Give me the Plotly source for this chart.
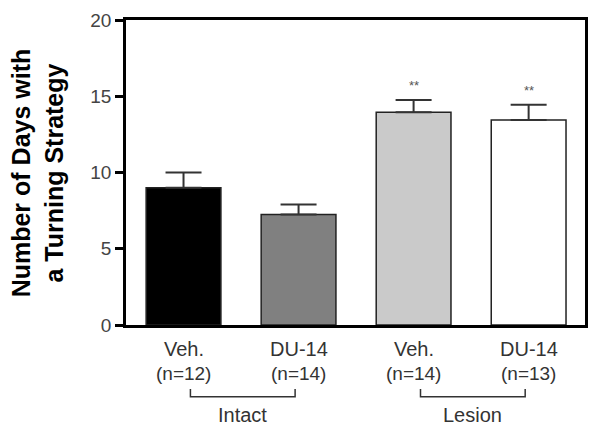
import plotly.graph_objects as go

groups = ["Veh.", "DU-14", "Veh.", "DU-14"]
n_labels = ["(n=12)", "(n=14)", "(n=14)", "(n=13)"]
means = [9.0, 7.25, 13.95, 13.45]
sem = [1.0, 0.65, 0.8, 1.0]
bar_colors = ["#000000", "#808080", "#cacaca", "#ffffff"]
sig = ["", "", "**", "**"]
conditions = ["Intact", "Lesion"]
y_ticks = [0, 5, 10, 15, 20]

x = list(range(len(means)))
text_col = "#333333"
font_family = "Arial, Liberation Sans, sans-serif"

fig = go.Figure()
fig.add_trace(go.Bar(
    x=x, y=means, width=0.65,
    marker=dict(color=bar_colors, line=dict(color="#222222", width=1.5)),
    error_y=dict(type="data", array=sem, arrayminus=[0] * 4, symmetric=False,
                 color="#333333", thickness=2, width=18),
    showlegend=False,
))

annotations = []
for i in x:
    annotations.append(dict(x=i, y=-0.035, xref="x", yref="paper", text=groups[i],
                            showarrow=False, yanchor="top",
                            font=dict(size=20, color=text_col, family=font_family)))
    annotations.append(dict(x=i, y=-0.118, xref="x", yref="paper", text=n_labels[i],
                            showarrow=False, yanchor="top",
                            font=dict(size=19, color=text_col, family=font_family)))
    if sig[i]:
        annotations.append(dict(x=i, y=means[i] + sem[i], xref="x", yref="y", text=sig[i],
                                showarrow=False, yanchor="bottom", yshift=5,
                                font=dict(size=13, color="#555555", family=font_family)))

shapes = []
for k, name in enumerate(conditions):
    a, b = 2 * k + 0.06, 2 * k + 1 - 0.03
    shapes.append(dict(type="path", xref="x", yref="paper",
                       path=f"M {a},-0.21 L {a},-0.235 L {b},-0.235 L {b},-0.21",
                       line=dict(color="#333333", width=1.5)))
    annotations.append(dict(x=(a + b) / 2, y=-0.252, xref="x", yref="paper", text=name,
                            showarrow=False, yanchor="top",
                            font=dict(size=20, color=text_col, family=font_family)))

annotations.append(dict(x=-0.192, y=0.5, xref="paper", yref="paper",
                        text="<b>Number of Days with<br>a Turning Strategy</b>",
                        textangle=-90, showarrow=False, xanchor="center", yanchor="middle",
                        font=dict(size=25, color="#000000", family=font_family)))

fig.update_layout(
    width=601, height=430,
    margin=dict(l=118, r=24, t=12, b=113, autoexpand=False),
    paper_bgcolor="white", plot_bgcolor="white",
    xaxis=dict(range=[-0.5, 3.49], showticklabels=False, ticks="", showgrid=False,
               zeroline=False, showline=True, linecolor="#000000", linewidth=2.5, mirror=True,
               automargin=False),
    yaxis=dict(range=[0, 20], tickvals=y_ticks, ticks="outside", ticklen=8, tickwidth=2.5,
               tickcolor="#000000", showgrid=False, zeroline=False, showline=True,
               linecolor="#000000", linewidth=2.5, mirror=True, automargin=False,
               ticklabeloverflow="allow",
               tickfont=dict(size=19, color="#444444", family=font_family)),
    annotations=annotations,
    shapes=shapes,
)

fig.write_html("out.html")
